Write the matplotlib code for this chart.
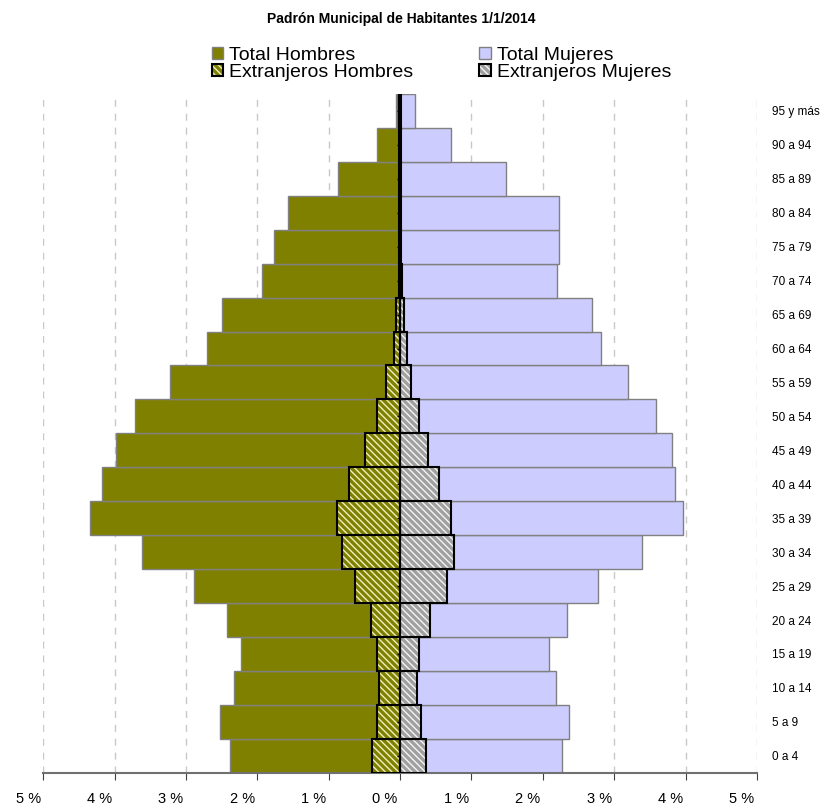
import numpy as np
import matplotlib.pyplot as plt
import matplotlib.patches as mpatches
from matplotlib.transforms import ScaledTranslation

plt.rcParams['font.family'] = ['Liberation Sans', 'DejaVu Sans']
plt.rcParams['hatch.linewidth'] = 1.0

edades = ['0 a 4', '5 a 9', '10 a 14', '15 a 19', '20 a 24', '25 a 29', '30 a 34',
          '35 a 39', '40 a 44', '45 a 49', '50 a 54', '55 a 59', '60 a 64', '65 a 69',
          '70 a 74', '75 a 79', '80 a 84', '85 a 89', '90 a 94', '95 y más']

total_hombres = [2.38, 2.52, 2.32, 2.23, 2.43, 2.89, 3.61, 4.35, 4.18, 3.98,
                 3.72, 3.22, 2.71, 2.49, 1.93, 1.77, 1.57, 0.87, 0.32, 0.05]
total_mujeres = [2.27, 2.37, 2.18, 2.09, 2.34, 2.78, 3.39, 3.96, 3.85, 3.81,
                 3.58, 3.19, 2.82, 2.69, 2.20, 2.23, 2.23, 1.48, 0.71, 0.21]
extr_hombres = [0.39, 0.32, 0.30, 0.32, 0.41, 0.63, 0.82, 0.89, 0.71, 0.49,
                0.33, 0.19, 0.09, 0.05, 0.02, 0.02, 0.01, 0.01, 0.01, 0.01]
extr_mujeres = [0.36, 0.29, 0.24, 0.26, 0.42, 0.66, 0.76, 0.72, 0.54, 0.39,
                0.27, 0.16, 0.10, 0.05, 0.03, 0.02, 0.02, 0.01, 0.01, 0.01]

xticks = [-5, -4, -3, -2, -1, 0, 1, 2, 3, 4, 5]
xlabels = ['5 %', '4 %', '3 %', '2 %', '1 %', '0 %', '1 %', '2 %', '3 %', '4 %', '5 %']

olive = '#808000'
lavanda = '#ccccff'
gris = '#a0a0a0'
rayas = '\\\\\\\\\\'

y = np.arange(len(edades))
th = -np.array(total_hombres)
tm = np.array(total_mujeres)
eh = -np.array(extr_hombres)
em = np.array(extr_mujeres)

fig = plt.figure(figsize=(8.3, 8.1), dpi=100)
ax = fig.add_axes([0.052, 0.046, 0.860, 0.838])

ax.barh(y, th, height=1.0, color=olive, edgecolor='#808080', linewidth=1, zorder=2)
ax.barh(y, tm, height=1.0, color=lavanda, edgecolor='#808080', linewidth=1, zorder=2)

# extranjeros: relleno con rayas y luego borde negro
ax.barh(y, eh, height=1.0, color=olive, edgecolor='#f0f0c0', hatch=rayas, linewidth=0, zorder=3)
ax.barh(y, em, height=1.0, color=gris, edgecolor='#f4f4f4', hatch=rayas, linewidth=0, zorder=3)
ax.barh(y, eh, height=1.0, fill=False, edgecolor='black', linewidth=1.5, zorder=4)
ax.barh(y, em, height=1.0, fill=False, edgecolor='black', linewidth=1.5, zorder=4)

ax.axvline(0, color='black', linewidth=1.5, zorder=5)
ax.hlines(y, -0.04, 0, color='black', linewidth=1, zorder=5)

ax.set_xlim(-5, 5)
ax.set_ylim(-0.5, len(edades) - 0.5)

ax.set_xticks(xticks)
ax.set_xticklabels(xlabels, fontsize=10.5)
ax.tick_params(axis='x', direction='out', length=5, color='#404040', pad=9)
off = ScaledTranslation(-15 / 100, 0, fig.dpi_scale_trans)
for lbl in ax.get_xticklabels():
    lbl.set_transform(lbl.get_transform() + off)

ax.yaxis.tick_right()
ax.set_yticks(y)
ax.set_yticklabels(edades, fontsize=8.5)
ax.tick_params(axis='y', length=0, pad=11)

ax.xaxis.grid(True, linestyle=(0, (5, 5)), color='#c8c8c8', linewidth=1, zorder=0)
ax.set_axisbelow(True)
for s in ['left', 'right', 'top']:
    ax.spines[s].set_visible(False)
ax.spines['bottom'].set_color('#707070')
ax.spines['bottom'].set_linewidth(1.5)

fig.text(0.483, 0.976, 'Padrón Municipal de Habitantes 1/1/2014', ha='center', va='center',
         fontsize=10, fontweight='bold')

h1 = mpatches.Patch(facecolor=olive, edgecolor='#808080')
h2 = (mpatches.Patch(facecolor=olive, edgecolor='#f0f0c0', hatch=rayas, linewidth=0),
      mpatches.Patch(fill=False, edgecolor='black', linewidth=1.5))
h3 = mpatches.Patch(facecolor=lavanda, edgecolor='#808080')
h4 = (mpatches.Patch(facecolor=gris, edgecolor='#f4f4f4', hatch=rayas, linewidth=0),
      mpatches.Patch(fill=False, edgecolor='black', linewidth=1.5))
fig.legend([h1, h2, h3, h4],
           ['Total Hombres', 'Extranjeros Hombres', 'Total Mujeres', 'Extranjeros Mujeres'],
           ncol=2, loc='center', bbox_to_anchor=(0.532, 0.921), frameon=False,
           fontsize=14, handlelength=0.6, handleheight=0.6, handletextpad=0.3,
           columnspacing=3.4, labelspacing=0.0, borderpad=0)

fig.savefig('out.png', dpi=100)
